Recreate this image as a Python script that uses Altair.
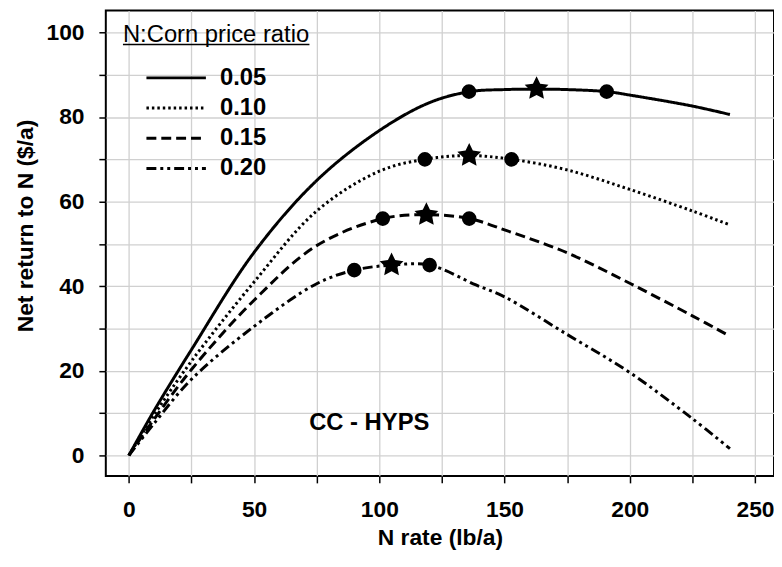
import altair as alt
import pandas as pd

# ---- data ----
ratios = ["0.05", "0.10", "0.15", "0.20"]

x_005 = [0, 10, 25, 50, 75, 100, 120, 136, 150, 163, 175, 191, 200, 225, 240]
y_005 = [0, 10.5, 25, 48, 65, 76.8, 83.4, 86, 86.5, 86.6, 86.5, 86, 85.2, 82.6, 80.6]

x_010 = [0, 10, 25, 50, 75, 100, 118, 136, 153, 175, 200, 225, 240]
y_010 = [0, 9.5, 22.3, 41, 57.8, 67.2, 70, 70.9, 70, 67.5, 62.9, 57.8, 54.5]

x_015 = [0, 10, 25, 50, 75, 101.5, 118.8, 136, 150.6, 175, 200, 225, 240]
y_015 = [0, 8.5, 20.3, 36.7, 49.6, 56, 56.9, 56, 53.2, 47.9, 40.7, 33, 28.2]

x_020 = [0, 10, 25, 50, 75, 90, 105, 120, 138.6, 150, 175, 200, 225, 240]
y_020 = [0, 7.5, 18, 30.5, 40.6, 43.8, 45, 45, 40.3, 37.5, 28.6, 19.6, 8.7, 1.6]

circle_ratio = ["0.05", "0.05", "0.10", "0.10", "0.15", "0.15", "0.20", "0.20"]
circle_x = [135.8, 190.8, 118.2, 152.8, 101.4, 135.9, 90.0, 120.1]
circle_y = [86, 86, 70, 70, 56, 56, 43.8, 45]

star_ratio = ["0.05", "0.10", "0.15", "0.20"]
star_x = [162.8, 135.9, 118.8, 104.9]
star_y = [86.7, 70.9, 56.9, 45]

x_ticks = [0, 25, 50, 75, 100, 125, 150, 175, 200, 225, 250]
y_ticks = [0, 10, 20, 30, 40, 50, 60, 70, 80, 90, 100]

annot_text = ["CC - HYPS"]
annot_x = [72]
annot_y = [6.1]

# ---- tables ----
rows = []
for r, xs, ys in zip(ratios, [x_005, x_010, x_015, x_020], [y_005, y_010, y_015, y_020]):
    for i, (a, b) in enumerate(zip(xs, ys)):
        rows.append({"ratio": r, "N": a, "ret": b, "order": i})
df_lines = pd.DataFrame(rows)
df_circ = pd.DataFrame({"ratio": circle_ratio, "N": circle_x, "ret": circle_y})
df_star = pd.DataFrame({"ratio": star_ratio, "N": star_x, "ret": star_y})
df_text = pd.DataFrame({"t": annot_text, "N": annot_x, "ret": annot_y})

FONT = "Liberation Sans"

xscale = alt.Scale(domain=[-9.2, 257.6], nice=False, zero=False)
yscale = alt.Scale(domain=[-4.85, 105.2], nice=False, zero=False)

xenc = alt.X("N:Q", scale=xscale, title="N rate (lb/a)",
             axis=alt.Axis(values=x_ticks, labelExpr="datum.value % 50 == 0 ? datum.label : ''",
                           labelPadding=16, titlePadding=5))
yenc = alt.Y("ret:Q", scale=yscale, title="Net return to N ($/a)",
             axis=alt.Axis(values=y_ticks, labelExpr="datum.value % 20 == 0 ? datum.label : ''",
                           labelPadding=15, titleX=-69, titleY=217))

# legend symbol: a long horizontal stroke drawn outside a small symbol box
legend_line = "M-4,0L4,0"

lines = alt.Chart(df_lines).mark_line(color="black", strokeWidth=3, interpolate="catmull-rom").encode(
    x=xenc, y=yenc, order="order:Q",
    strokeDash=alt.StrokeDash(
        "ratio:N",
        scale=alt.Scale(domain=ratios, range=[[1, 0], [2.5, 3], [10, 5], [10, 4, 3, 4, 3, 4]]),
        legend=alt.Legend(
            title="N:Corn price ratio", orient="none", legendX=17.3, legendY=12.5, padding=0,
            titleFont=FONT, titleFontSize=24, titleFontWeight="normal", titleColor="black",
            titlePadding=19.5, titleLimit=500, labelFont=FONT, labelFontSize=24, labelFontWeight="bold",
            labelColor="black", symbolType=legend_line, symbolSize=225, symbolStrokeWidth=3,
            symbolStrokeColor="black", symbolFillColor="transparent",
            symbolOffset=41.7, labelOffset=32.2, rowPadding=6.5,
        ),
    ),
)

star_path = ("M0,-1L0.29,-0.4L0.951,-0.309L0.47,0.153L0.588,0.809L0,0.5L-0.588,0.809"
             "L-0.47,0.153L-0.951,-0.309L-0.29,-0.4Z")

circles = alt.Chart(df_circ).mark_point(shape="circle", filled=True, size=218, color="black",
                                         opacity=1).encode(x="N:Q", y="ret:Q")
stars = alt.Chart(df_star).mark_point(shape=star_path, filled=True, size=636, color="black",
                                       opacity=1).encode(x="N:Q", y="ret:Q")
label = alt.Chart(df_text).mark_text(font=FONT, fontSize=24, fontWeight="bold", align="left",
                                     baseline="alphabetic", color="black").encode(
    x="N:Q", y="ret:Q", text="t:N")

underline = alt.Chart(pd.DataFrame({"u": [0]})).mark_rule(color="black", strokeWidth=1.5).encode(
    x=alt.value(17.3), x2=alt.value(205.5), y=alt.value(34.3))

chart = alt.layer(lines, circles, stars, label, underline).properties(
    width=674.3, height=469.7,
    autosize=alt.AutoSizeParams(type="none"),
    padding={"left": 98.7, "top": 0, "right": 0, "bottom": 80},
).configure_view(stroke="black", strokeWidth=2).configure_axis(
    domain=False, grid=True, gridColor="#d0d0d0", gridWidth=1.3,
    ticks=True, tickColor="black", tickWidth=1.5, tickSize=7,
    labelFont=FONT, labelFontSize=23, labelFontWeight="bold", labelColor="black",
    titleFont=FONT, titleFontSize=23, titleFontWeight="bold", titleColor="black",
)

chart.save("out.html", embed_options={"renderer": "svg", "actions": False})
